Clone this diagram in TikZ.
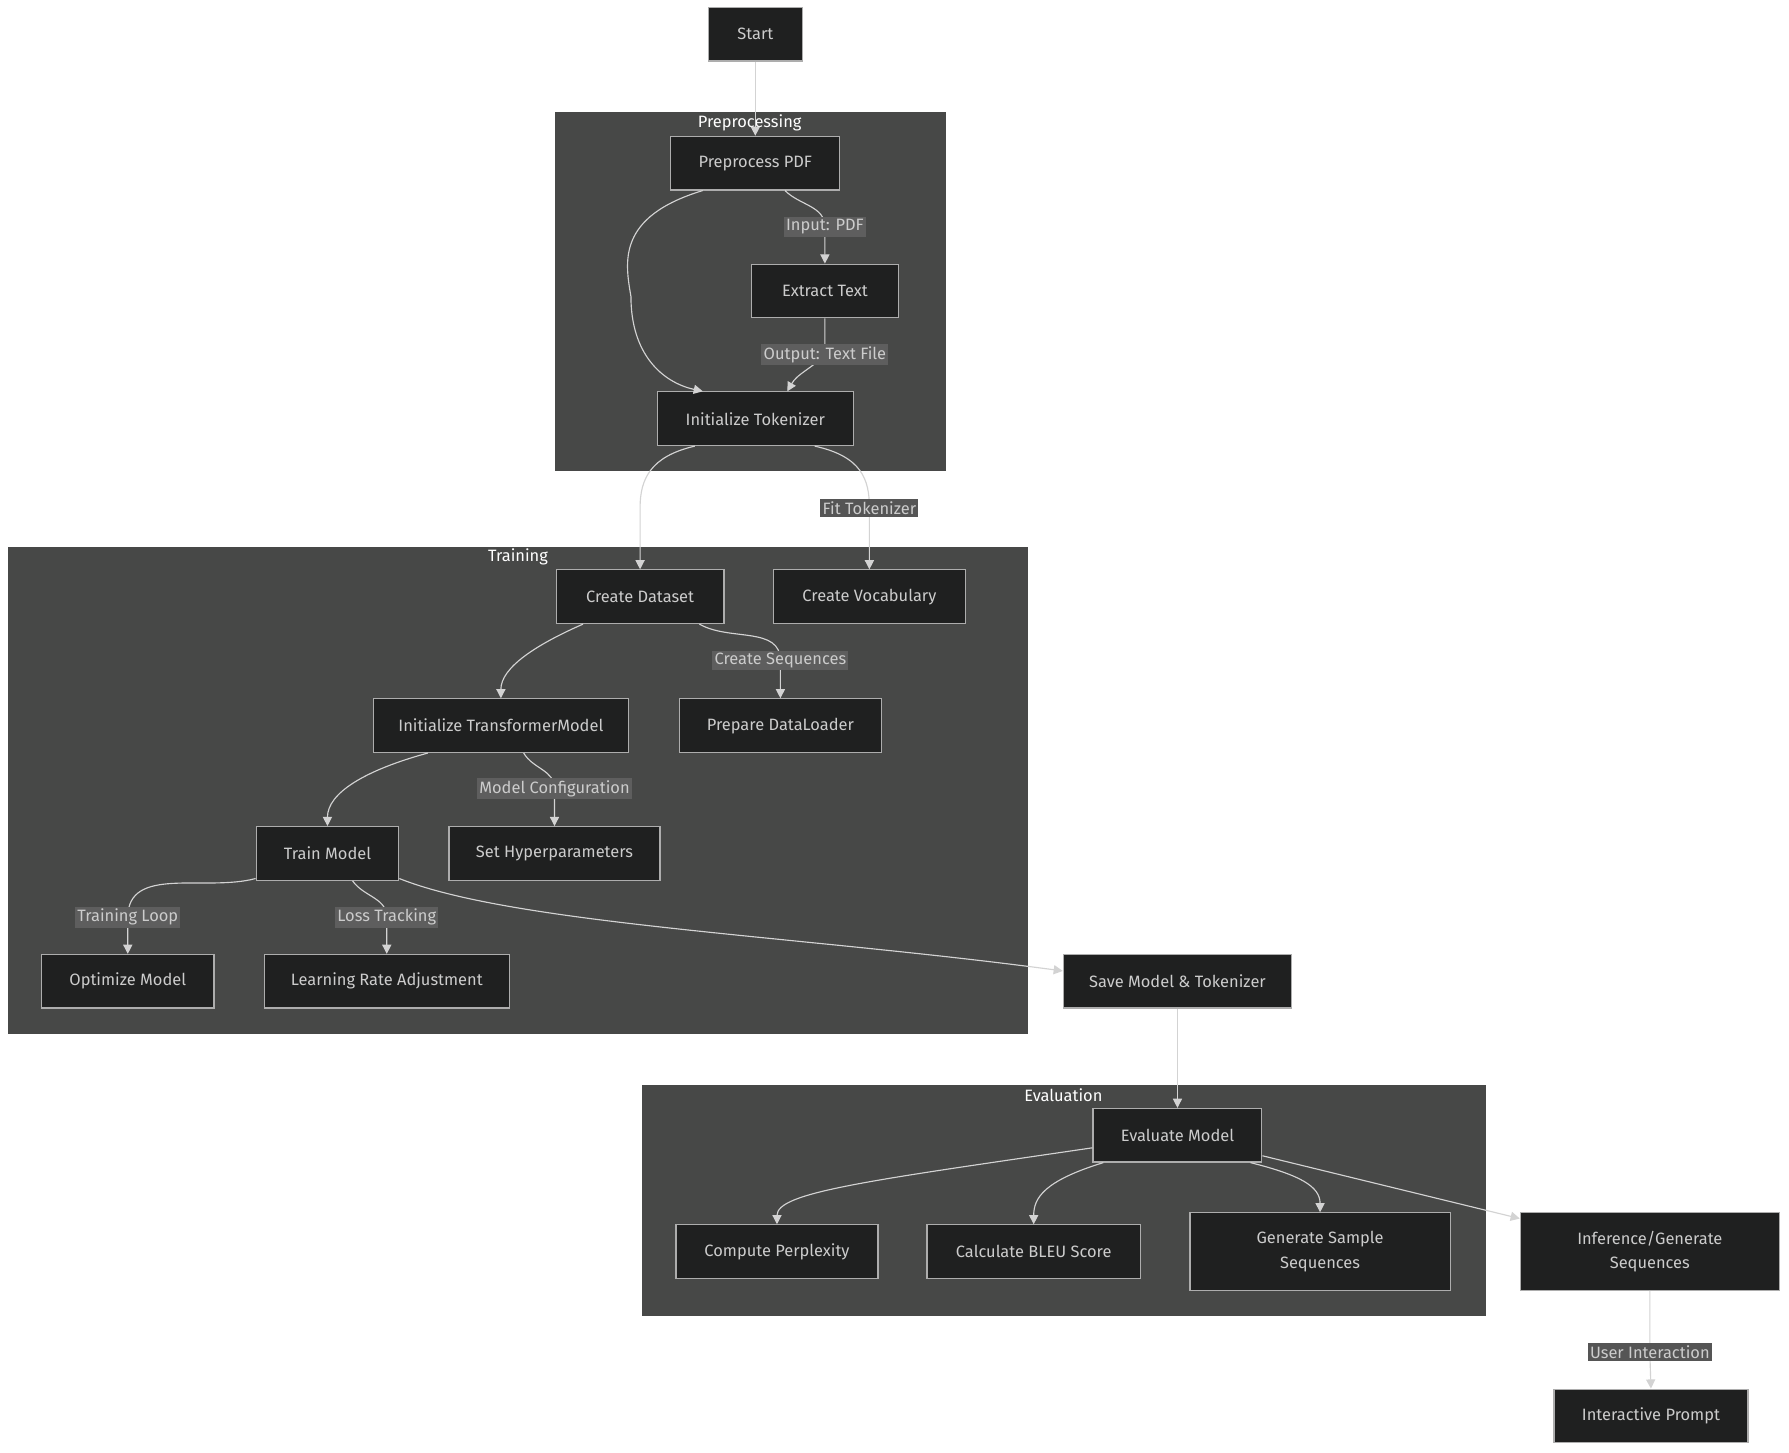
\documentclass[tikz,border=0pt]{standalone}
\usepackage{fontspec}
\setmainfont{Fira Sans}
\usetikzlibrary{arrows.meta,calc}
\definecolor{clfill}{HTML}{474847}
\definecolor{nfill}{HTML}{1F2020}
\definecolor{ntext}{HTML}{CCCCCC}
\definecolor{edgec}{HTML}{D3D3D3}
\definecolor{lblin}{HTML}{5E5E5E}
\definecolor{lblout}{HTML}{555555}
\begin{document}
\begin{tikzpicture}[x=0.5pt,y=-0.5pt,
  box/.style={draw=ntext!85!black,fill=nfill,text=ntext,line width=0.5pt,minimum height=23.5pt,inner sep=0pt,font=\fontsize{7.2}{8.6}\selectfont,align=center},
  cl/.style={fill=clfill,draw=none},
  ctitle/.style={text=white,font=\fontsize{7.2}{8.6}\selectfont,inner sep=0pt},
  lbl/.style={fill=lblin,text=ntext,font=\fontsize{7.2}{8.6}\selectfont,inner sep=1pt},
  lblo/.style={lbl,fill=lblout},
  e/.style={draw=edgec,line width=0.5pt,-{Triangle[length=4pt,width=4pt]}}]
\useasboundingbox (0,0) rectangle (1568,1273);
\fill[white] (0,0) rectangle (1568,1273);
% clusters
\path[cl] (486,98) rectangle (829,413);
\path[cl] (7,479) rectangle (901,906);
\path[cl] (563,951) rectangle (1302,1153);
\node[ctitle] (tp) at (657,108) {Preprocessing};
\node[ctitle] (tt) at (454,488) {Training};
\node[ctitle] (te) at (932,960) {Evaluation};
% nodes
\node[box,minimum width=41pt] (start) at (662,30) {Start};
\node[box,minimum width=74pt] (pp) at (662,143) {Preprocess PDF};
\node[box,minimum width=64.5pt] (et) at (723,255) {Extract Text};
\node[box,minimum width=86pt] (it) at (662,367) {Initialize Tokenizer};
\node[box,minimum width=73.5pt] (cd) at (561,523) {Create Dataset};
\node[box,minimum width=84pt] (cv) at (762,523) {Create Vocabulary};
\node[box,minimum width=112pt] (tm) at (439,636) {Initialize TransformerModel};
\node[box,minimum width=88.5pt] (dl) at (684,636) {Prepare DataLoader};
\node[box,minimum width=62.5pt] (tr) at (287,748) {Train Model};
\node[box,minimum width=92.5pt] (sh) at (486,748) {Set Hyperparameters};
\node[box,minimum width=75.5pt] (om) at (112,860) {Optimize Model};
\node[box,minimum width=107.5pt] (lr) at (339,860) {Learning Rate Adjustment};
\node[box,minimum width=100pt] (sv) at (1032,860) {Save Model \& Tokenizer};
\node[box,minimum width=74pt] (ev) at (1032,995) {Evaluate Model};
\node[box,minimum width=88.5pt] (cp) at (681,1097) {Compute Perplexity};
\node[box,minimum width=93.5pt] (bl) at (906,1097) {Calculate BLEU Score};
\node[box,minimum width=114pt,minimum height=34pt] (gs) at (1157,1097) {Generate Sample\\[2pt]Sequences};
\node[box,minimum width=113.5pt,minimum height=34pt] (inf) at (1446,1097) {Inference/Generate\\[2pt]Sequences};
\node[box,minimum width=85pt] (ip) at (1447,1241) {Interactive Prompt};
% label positions
\coordinate (l1) at (723,199);
\coordinate (l2) at (723,311);
\coordinate (l3) at (762,445);
\coordinate (l4) at (684,579);
\coordinate (l5) at (486,691);
\coordinate (l6) at (112,804);
\coordinate (l7) at (339,804);
\coordinate (l8) at (1446,1185);
% edges
\draw[e] (start) -- (pp);
\draw[e] ($(pp.south)+(-46,0)$) .. controls (540,190) and (548,230) .. (553,260) .. controls (553,310) and (580,335) .. ($(it.north)+(-46,0)$);
\draw[e] ($(pp.south)+(26,0)$) to[out=-45,in=90] (l1) to[out=-90,in=90] (et.north);
\draw[e] (et.south) to[out=-90,in=90] (l2) to[out=-135,in=60] ($(it.north)+(28,0)$);
\draw[e] ($(it.south)+(-53,0)$) .. controls (570,400) and (561,420) .. (561,445) -- (cd.north);
\draw[e] ($(it.south)+(52,0)$) .. controls (755,400) and (762,420) .. (l3) -- (cv.north);
\draw[e] ($(cd.south)+(-50,0)$) .. controls (470,565) and (439,585) .. (tm.north);
\draw[e] ($(cd.south)+(52,0)$) to[out=-30,in=90] (l4) -- (dl.north);
\draw[e] ($(tm.south)+(-64,0)$) .. controls (320,675) and (287,695) .. (tr.north);
\draw[e] ($(tm.south)+(20,0)$) to[out=-60,in=90] (l5) -- (sh.north);
\draw[e] ($(tr.south west)+(0,-2)$) to[out=-165,in=90] (l6) -- (om.north);
\draw[e] ($(tr.south)+(22,0)$) to[out=-55,in=90] (l7) -- (lr.north);
\draw[e] ($(tr.south east)+(0,-2)$) .. controls (450,810) and (700,820) .. ($(sv.west)+(0,-9)$);
\draw[e] (sv) -- (ev);
\draw[e] ($(ev.west)+(0,11)$) .. controls (760,1035) and (681,1045) .. (cp.north);
\draw[e] ($(ev.south)+(-65,0)$) .. controls (915,1035) and (906,1050) .. (bl.north);
\draw[e] ($(ev.south)+(64,0)$) .. controls (1140,1030) and (1157,1040) .. (gs.north);
\draw[e] ($(ev.east)+(0,18)$) -- ($(inf.west)+(0,-29)$);
\draw[e] (inf.south) -- (l8) -- (ip.north);
% labels
\node[lbl] (t1) at (l1) {Input: PDF};
\node[lbl] (t2) at (l2) {Output: Text File};
\node[lblo] (t3) at (l3) {Fit Tokenizer};
\node[lbl] (t4) at (l4) {Create Sequences};
\node[lbl] (t5) at (l5) {Model Configuration};
\node[lbl] (t6) at (l6) {Training Loop};
\node[lbl] (t7) at (l7) {Loss Tracking};
\node[lblo] (t8) at (l8) {User Interaction};
\end{tikzpicture}
\end{document}
